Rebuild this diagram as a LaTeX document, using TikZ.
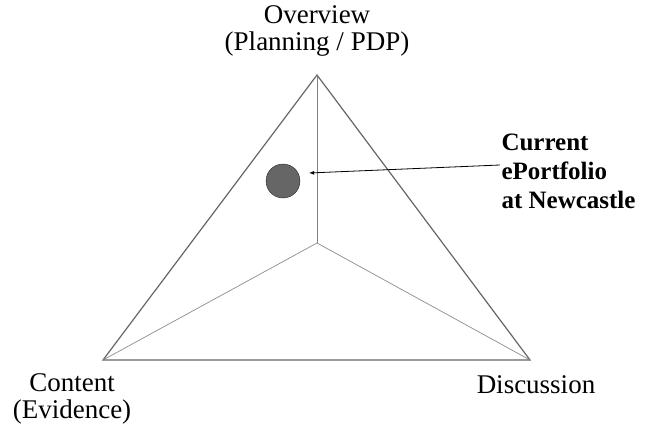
\documentclass[tikz,border=0pt]{standalone}
\usepackage{fontspec}
\setmainfont{Liberation Serif}
\usetikzlibrary{positioning}
\tikzset{
    corner/.style={align=center,font=\fontsize{27}{27}\selectfont},
    note/.style={align=left,font=\bfseries\fontsize{25}{29}\selectfont}
}
\begin{document}
\begin{tikzpicture}[x=1pt,y=-1pt]
        \useasboundingbox (0, 0) rectangle (651, 428);

        \coordinate (top)   at (317,  75);
        \coordinate (left)  at (103, 360);
        \coordinate (right) at (530, 360);
        \coordinate (mid)   at (317, 243);

        \draw[black!60,line width=1.2pt] (top) -- (left) -- (right) -- cycle;
        \draw[black!50] (top) -- (mid);
        \draw[black!45,line width=0.7pt] (left) -- (mid) -- (right);

        \node[circle,draw=black!85,fill=black!60,minimum width=34pt,minimum height=32pt,inner sep=0pt] (now) at (283, 181) {};

        \node[corner] (overview) at (317, 31) {Overview\\(Planning / PDP)};
        \node[corner] (content) at (72, 399) {Content\\(Evidence)};
        \node[corner] (discussion) at (536, 385) {Discussion};
        \node[note,anchor=west] (current) at (498, 171) {Current\\ePortfolio\\at Newcastle};

        \coordinate (from) at (500, 165);
        \coordinate (tip)  at (309, 173);
        \draw[-latex,thick] (from) -- (tip);
    \end{tikzpicture}
\end{document}
